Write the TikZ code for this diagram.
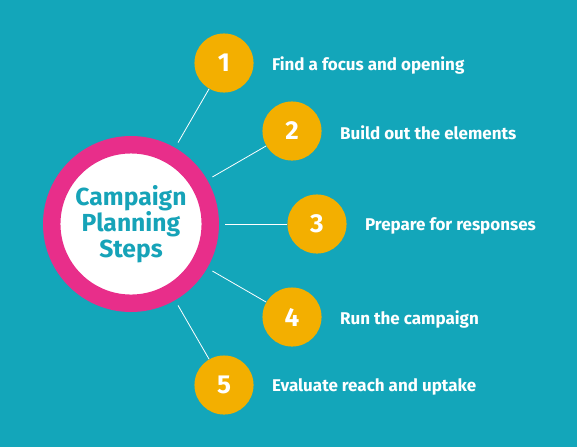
\documentclass[tikz,border=0pt]{standalone}
\usepackage{fontspec}
\setmainfont{Fira Sans}
\usepackage{tikz}
\usetikzlibrary{positioning,calc,backgrounds}
\definecolor{SeaTeal}{RGB}{19,166,186}
\definecolor{HotPink}{RGB}{232,46,138}
\definecolor{StepGold}{RGB}{243,175,0}
\definecolor{TitleTeal}{RGB}{22,163,184}
\tikzset{
  hub/.style={circle,draw=HotPink,line width=13.1pt,fill=white,minimum size=118.9pt,inner sep=0pt,align=center,text=TitleTeal,font=\fontsize{18.5}{19.5}\selectfont\bfseries},
  stepdot/.style={circle,fill=StepGold,minimum size=44.3pt,inner sep=0pt,text=white,font=\fontsize{19.5}{20}\selectfont\bfseries},
  steptext/.style={inner sep=0pt,text=white,anchor=west,yshift=-1.5pt,font=\fontsize{12.75}{14}\selectfont\bfseries},
  spoke/.style={draw=white,line width=0.6pt,shorten <=4.5pt}
}
\begin{document}
\begin{tikzpicture}[x=0.75pt,y=-0.75pt,node distance=13.5pt]
\fill[SeaTeal] (0,0) rectangle (577,447);
\useasboundingbox (0,0) rectangle (577,447);

\node[hub] (hub) at (131,224) {Campaign\\Planning\\Steps};

\node[stepdot] (s1) at (224,63) {1};
\node[stepdot] (s2) at (292,131) {2};
\node[stepdot] (s3) at (317,224) {3};
\node[stepdot] (s4) at (292,317) {4};
\node[stepdot] (s5) at (224,385) {5};

\node[steptext,right=of s1] (t1) {Find a focus and opening};
\node[steptext,right=of s2] (t2) {Build out the elements};
\node[steptext,right=of s3] (t3) {Prepare for responses};
\node[steptext,right=of s4] (t4) {Run the campaign};
\node[steptext,right=of s5] (t5) {Evaluate reach and uptake};

\draw[spoke] (hub) -- (s1);
\draw[spoke] (hub) -- (s2);
\draw[spoke] (hub) -- (s3);
\draw[spoke] (hub) -- (s4);
\draw[spoke] (hub) -- (s5);
\end{tikzpicture}
\end{document}
